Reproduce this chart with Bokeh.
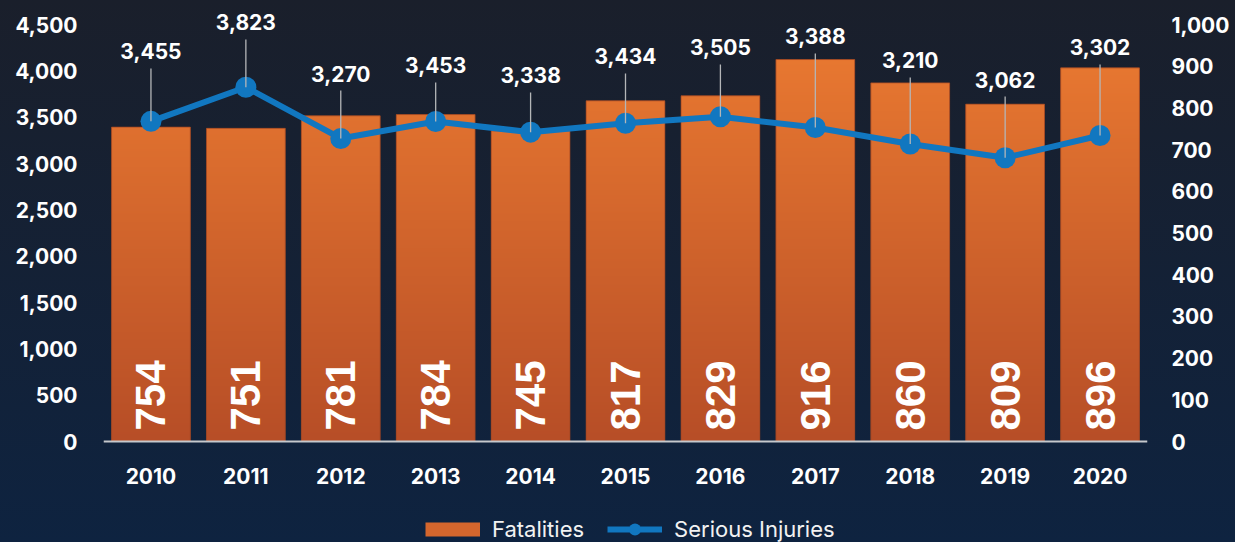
import numpy as np
from bokeh.plotting import figure
from bokeh.models import (Range1d, LinearAxis, FixedTicker, ColumnDataSource,
                          Legend, LegendItem, NumeralTickFormatter)
from bokeh.core.properties import value
from bokeh.embed import file_html
from bokeh.resources import INLINE

# ---------------- data ----------------
years = ["2010", "2011", "2012", "2013", "2014", "2015", "2016", "2017", "2018", "2019", "2020"]
fatalities = [754, 751, 781, 784, 745, 817, 829, 916, 860, 809, 896]
serious_injuries = [3455, 3823, 3270, 3453, 3338, 3434, 3505, 3388, 3210, 3062, 3302]
# heights (left-axis units) at which the injury value labels sit
label_heights = [4209, 4522, 3971, 4058, 3950, 4155, 4252, 4371, 4112, 3906, 4252]
left_ticks = [0, 500, 1000, 1500, 2000, 2500, 3000, 3500, 4000, 4500]
right_ticks = [0, 100, 200, 300, 400, 500, 600, 700, 800, 900, 1000]

# ---------------- geometry ----------------
W, H = 1235, 542
ZERO_PX = 441            # pixel row of the zero line
PX_4500 = 417            # pixels from 0 to 4500 (left) / 0 to 1000 (right)
left_per_px = 4500 / PX_4500
right_per_px = 1000 / PX_4500
below_px = H - ZERO_PX

x = list(range(len(years)))
BAR_W = 0.83

p = figure(width=W, height=H, x_range=Range1d(-0.5, len(years) - 0.5),
           y_range=Range1d(-below_px * left_per_px, ZERO_PX * left_per_px),
           output_backend="svg", toolbar_location=None,
           min_border_left=103, min_border_right=88, min_border_top=0, min_border_bottom=0,
           outline_line_color=None, background_fill_color=None, border_fill_color=None)
p.extra_y_ranges = {"fat": Range1d(-below_px * right_per_px, ZERO_PX * right_per_px)}
p.xgrid.visible = False
p.ygrid.visible = False

TICK_FONT = "Inter"
ya = p.yaxis[0]
ya.ticker = FixedTicker(ticks=left_ticks)
ya.formatter = NumeralTickFormatter(format="0,0")
ya.major_label_standoff = 26

right_axis = LinearAxis(y_range_name="fat", ticker=FixedTicker(ticks=right_ticks),
                        formatter=NumeralTickFormatter(format="0,0"))
right_axis.major_label_standoff = 24
p.add_layout(right_axis, "right")

xa = p.xaxis[0]
xa.ticker = FixedTicker(ticks=x)
xa.major_label_overrides = {i: years[i] for i in x}
xa.major_label_standoff = 26
xa.axis_line_color = "#c5c8cc"
xa.axis_line_width = 2
xa.fixed_location = 0

for ax in (ya, right_axis, xa):
    ax.major_tick_line_color = None
    ax.minor_tick_line_color = None
    ax.major_tick_out = 0
    ax.major_tick_in = 0
    ax.major_label_text_font = TICK_FONT
    ax.major_label_text_font_style = "bold"
    ax.major_label_text_font_size = "21px"
    ax.major_label_text_color = "#ffffff"
for ax in (ya, right_axis):
    ax.axis_line_color = None

# ---------------- bars ----------------
bar_src = ColumnDataSource(dict(x=x, top=fatalities, label=[str(v) for v in fatalities],
                                ly=[11 * right_per_px] * len(x)))
p.vbar(x="x", top="top", width=BAR_W, source=bar_src, fill_color="#d2632c",
       line_color=None, y_range_name="fat")

bottom_rgb = np.array([183, 78, 39], dtype=float)
top_rgb = np.array([232, 120, 49], dtype=float)
N = 256
imgs = []
for v in fatalities:
    ys = (np.arange(N) + 0.5) / N * v
    t = np.clip(ys / 920.0, 0, 1)[:, None]
    cols = bottom_rgb + (top_rgb - bottom_rgb) * t
    img = np.zeros((N, 1), dtype=np.uint32)
    view = img.view(dtype=np.uint8).reshape((N, 1, 4))
    view[:, 0, 0] = cols[:, 0].astype(np.uint8)
    view[:, 0, 1] = cols[:, 1].astype(np.uint8)
    view[:, 0, 2] = cols[:, 2].astype(np.uint8)
    view[:, 0, 3] = 255
    imgs.append(img)
p.image_rgba(image=imgs, x=[i - BAR_W / 2 for i in x], y=[0] * len(x),
             dw=[BAR_W] * len(x), dh=fatalities, y_range_name="fat")
p.vbar(x="x", top="top", width=BAR_W, source=bar_src, fill_color=None,
       line_color="#9c4522", line_alpha=0.7, line_width=1, y_range_name="fat")

p.text(x="x", y="ly", text="label", source=bar_src, angle=np.pi / 2,
       text_align="left", text_baseline="middle", text_color="#ffffff",
       text_font=value("Liberation Sans"), text_font_style="bold",
       text_font_size="42px", y_range_name="fat")

# legend swatch for the bars: a thick stroke with no drawable points (NaN y)
swatch_r = p.line(x=x, y=[float("nan")] * len(x), line_color="#d4662d",
                  line_width=14, line_cap="butt")

# ---------------- line ----------------
LINE_C = "#1177c0"
inj_src = ColumnDataSource(dict(x=x, y=serious_injuries,
                                label=[f"{v:,}" for v in serious_injuries],
                                ly=label_heights,
                                lt=[h - 17 * left_per_px for h in label_heights]))
line_r = p.line(x="x", y="y", source=inj_src, line_color=LINE_C, line_width=6)
dot_r = p.scatter(x="x", y="y", source=inj_src, size=21, fill_color=LINE_C,
                  line_color=None)
p.segment(x0="x", y0="y", x1="x", y1="lt", source=inj_src, line_color="#b4b6b8",
          line_width=1.3)
p.text(x="x", y="ly", text="label", source=inj_src, text_align="center",
       text_baseline="middle", text_color="#ffffff", text_font=value(TICK_FONT),
       text_font_style="bold", text_font_size="21px")

# ---------------- legend ----------------
legend = Legend(items=[LegendItem(label="Fatalities", renderers=[swatch_r]),
                       LegendItem(label="Serious Injuries", renderers=[line_r, dot_r])],
                orientation="horizontal", location=(322, -2),
                background_fill_alpha=0, border_line_color=None, padding=0, margin=0,
                spacing=23, label_standoff=12, glyph_width=55, glyph_height=30,
                label_text_font="Inter", label_text_font_size="22px",
                label_text_color="#f2f2f2", label_text_baseline="middle")
p.add_layout(legend, "center")

STYLE = ("<style>html{min-height:100%;background:linear-gradient(180deg,#1a1f2b 0%,"
         "#0e2340 100%) fixed;}body{background:transparent;}</style>")
open("out.html", "w").write(file_html(p, INLINE).replace("</head>", STYLE + "</head>"))
